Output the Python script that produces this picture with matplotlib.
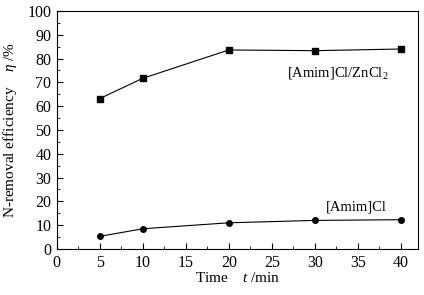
import numpy as np
import matplotlib
matplotlib.use("Agg")
import matplotlib.pyplot as plt
from matplotlib.ticker import MultipleLocator

plt.rcParams['font.family'] = ['Liberation Serif', 'DejaVu Serif']
plt.rcParams['mathtext.fontset'] = 'custom'
plt.rcParams['mathtext.rm'] = 'Liberation Serif'
plt.rcParams['mathtext.it'] = 'Liberation Serif:italic'

# data
time_min = [5, 10, 20, 30, 40]
eff_zncl2 = [63.2, 71.7, 83.6, 83.3, 84.0]
eff_amimcl = [5.3, 8.5, 11.0, 12.0, 12.3]

fig = plt.figure(figsize=(4.24, 2.95), dpi=100)
ax = fig.add_axes([0.134, 0.156, 0.852, 0.807])

ax.plot(time_min, eff_zncl2, 'k-s', ms=4, lw=0.8)
ax.plot(time_min, eff_amimcl, 'k-o', ms=4, lw=0.8)

ax.set_xlim(0, 42)
ax.set_ylim(0, 100)
ax.xaxis.set_major_locator(MultipleLocator(5))
ax.xaxis.set_minor_locator(MultipleLocator(2.5))
ax.yaxis.set_major_locator(MultipleLocator(10))
ax.yaxis.set_minor_locator(MultipleLocator(5))
ax.tick_params(which='both', direction='in', top=False, right=False, labelsize=11.5)
ax.tick_params(which='major', length=4, pad=4)
ax.tick_params(which='minor', length=2.5)
for s in ax.spines.values():
    s.set_linewidth(0.8)

ax.set_xlabel(r'Time    $t$ /min', fontsize=11, labelpad=0)
ax.set_ylabel(r'N-removal efficiency    $\eta$ /%', fontsize=11, labelpad=6)

ax.text(32.7, 74, r'[Amim]Cl/ZnCl$_2$', fontsize=10.5, ha='center', va='center')
ax.text(34.8, 17.6, '[Amim]Cl', fontsize=10.5, ha='center', va='center')

fig.savefig('out.png', dpi=100)
